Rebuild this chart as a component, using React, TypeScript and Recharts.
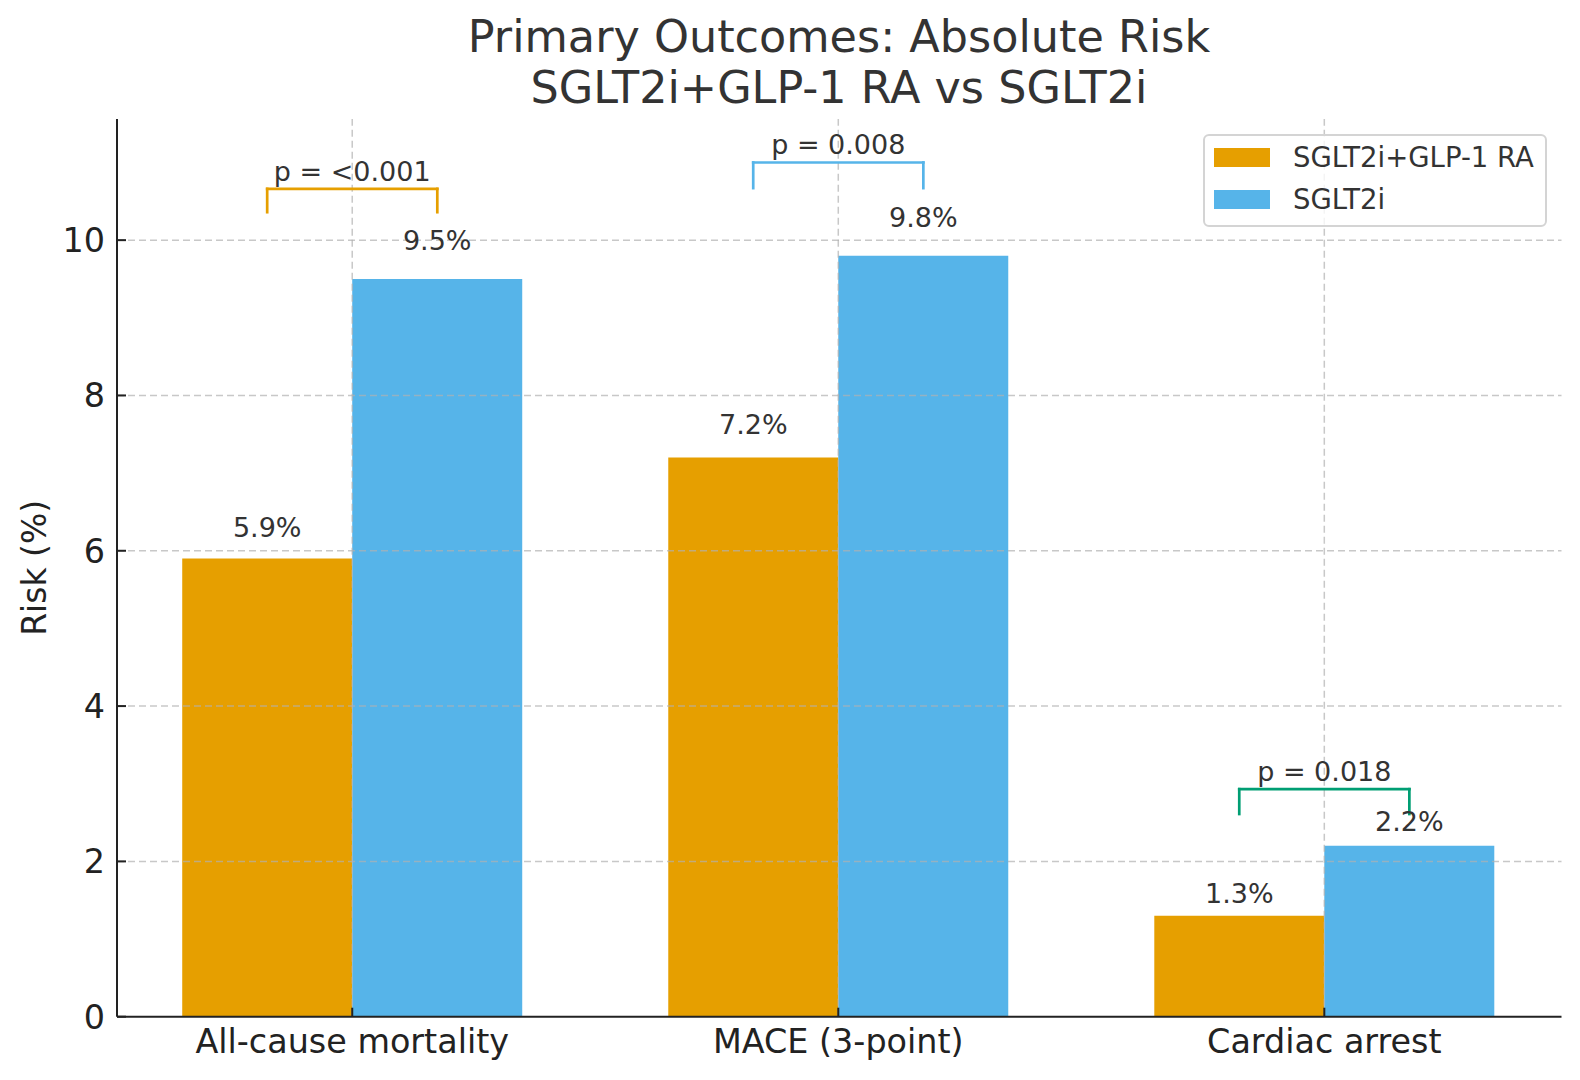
import React from "react";
import { Bar, BarChart, Label, LabelList, Legend, ReferenceLine, XAxis, YAxis } from "recharts";

const categories = ["All-cause mortality", "MACE (3-point)", "Cardiac arrest"];
const seriesNames = ["SGLT2i+GLP-1 RA", "SGLT2i"];
const comboRisk = [5.9, 7.2, 1.3];
const sglt2Risk = [9.5, 9.8, 2.2];
const pValueLabels = ["p = <0.001", "p = 0.008", "p = 0.018"];
const bracketLow = [10.36, 10.67, 2.61];
const bracketHigh = [10.66, 11.0, 2.93];
const yTicks = [0, 2, 4, 6, 8, 10];
const xTicks = [0, 1, 2];

const FONT = "'DejaVu Sans', sans-serif";
const ORANGE = "#E69F00";
const BLUE = "#56B4E9";
const GREEN = "#009E73";
const seriesColors = [ORANGE, BLUE];
const bracketColors = [ORANGE, BLUE, GREEN];
const BAR_HALF = 0.175; // each bar is 0.35 of a category step

const data = categories.map((name, i) => ({
    idx: i,
    name,
    combo: comboRisk[i],
    sglt2: sglt2Risk[i],
}));

const gridStyle = {
    stroke: "#b0b0b0",
    strokeOpacity: 0.7,
    strokeWidth: 1.5,
    strokeDasharray: "7 4",
};

function ValueLabel(props: any) {
    const { x, y, width, height, value } = props;
    const v = Number(value);
    // label sits a little above the bar, in data units
    const perUnit = Number(height) / v;
    const gap = (0.13 + 0.025 * v) * perUnit;
    return (
        <text
            x={Number(x) + Number(width) / 2}
            y={Number(y) - gap}
            textAnchor="middle"
            fontSize={27}
            fill="#333333"
            fontFamily={FONT}
        >
            {v.toFixed(1)}%
        </text>
    );
}

function YTitle(props: any) {
    const vb = props.viewBox ?? { x: 37, y: 119, width: 80, height: 897.7 };
    const cx = vb.x + vb.width - 71;
    const cy = vb.y + vb.height / 2;
    return (
        <text
            x={cx}
            y={cy}
            transform={`rotate(-90, ${cx}, ${cy})`}
            textAnchor="middle"
            fontSize={33}
            fill="#222222"
            fontFamily={FONT}
        >
            Risk (%)
        </text>
    );
}

function LegendBox() {
    return (
        <div
            style={{
                position: "relative",
                width: 344,
                height: 93,
                boxSizing: "border-box",
                border: "2px solid #d4d4d4",
                borderRadius: 6,
                background: "rgba(255,255,255,0.8)",
                fontFamily: FONT,
            }}
        >
            {seriesNames.map((n, i) => (
                <React.Fragment key={n}>
                    <div
                        style={{
                            position: "absolute",
                            left: 9,
                            top: 12.3 + i * 42,
                            width: 56,
                            height: 18.5,
                            background: seriesColors[i],
                        }}
                    />
                    <div
                        style={{
                            position: "absolute",
                            left: 88,
                            top: 5 + i * 42,
                            fontSize: 27.5,
                            lineHeight: "32px",
                            color: "#333333",
                            whiteSpace: "nowrap",
                        }}
                    >
                        {n}
                    </div>
                </React.Fragment>
            ))}
        </div>
    );
}

export default function App() {
    const axisStyle = { stroke: "#222222", strokeWidth: 2 };
    return (
        <div
            style={{
                position: "absolute",
                left: 0,
                top: 0,
                width: 1580,
                height: 1080,
                background: "#ffffff",
                fontFamily: FONT,
            }}
        >
            <div
                style={{
                    position: "absolute",
                    left: 339,
                    top: 11,
                    width: 1000,
                    textAlign: "center",
                    fontSize: 44.5,
                    lineHeight: "51px",
                    color: "#333333",
                    whiteSpace: "nowrap",
                }}
            >
                <div>Primary Outcomes: Absolute Risk</div>
                <div>SGLT2i+GLP-1 RA vs SGLT2i</div>
            </div>
            <BarChart
                width={1580}
                height={1080}
                data={data}
                margin={{ top: 119, right: 18.5, bottom: 13.3, left: 37 }}
                barGap={0}
                barSize={170}
            >
                <XAxis
                    type="number"
                    dataKey="idx"
                    domain={[-0.484, 2.488]}
                    ticks={xTicks}
                    interval={0}
                    allowDataOverflow
                    tickFormatter={(i) => categories[i] ?? ""}
                    height={50}
                    tickSize={-9}
                    tickMargin={22}
                    axisLine={axisStyle}
                    tickLine={axisStyle}
                    tick={{ fill: "#222222", fontSize: 33.4 }}
                />
                <YAxis
                    type="number"
                    domain={[0, 11.56]}
                    ticks={yTicks}
                    allowDataOverflow
                    width={80}
                    tickSize={-9}
                    tickMargin={21}
                    axisLine={axisStyle}
                    tickLine={axisStyle}
                    tick={{ fill: "#222222", fontSize: 33.4 }}
                >
                    <Label value="Risk (%)" content={YTitle} />
                </YAxis>
                <Bar dataKey="combo" name={seriesNames[0]} fill={ORANGE} isAnimationActive={false}>
                    <LabelList dataKey="combo" content={ValueLabel} />
                </Bar>
                <Bar dataKey="sglt2" name={seriesNames[1]} fill={BLUE} isAnimationActive={false}>
                    <LabelList dataKey="sglt2" content={ValueLabel} />
                </Bar>
                {yTicks.filter((t) => t > 0).map((t) => (
                    <ReferenceLine key={`gy-${t}`} y={t} {...gridStyle} />
                ))}
                {xTicks.map((t) => (
                    <ReferenceLine key={`gx-${t}`} x={t} {...gridStyle} />
                ))}
                {categories.map((c, i) => {
                    const l = i - BAR_HALF;
                    const r = i + BAR_HALF;
                    const col = bracketColors[i];
                    return [
                        <ReferenceLine
                            key={`l-${c}`}
                            segment={[{ x: l, y: bracketLow[i] }, { x: l, y: bracketHigh[i] }]}
                            stroke={col}
                            strokeWidth={2.7}
                            strokeLinecap="square"
                            ifOverflow="visible"
                        />,
                        <ReferenceLine
                            key={`t-${c}`}
                            segment={[{ x: l, y: bracketHigh[i] }, { x: r, y: bracketHigh[i] }]}
                            stroke={col}
                            strokeWidth={2.7}
                            strokeLinecap="square"
                            ifOverflow="visible"
                            label={{
                                value: pValueLabels[i],
                                position: "top",
                                offset: 8,
                                fill: "#333333",
                                fontSize: 27,
                                fontFamily: FONT,
                            }}
                        />,
                        <ReferenceLine
                            key={`r-${c}`}
                            segment={[{ x: r, y: bracketLow[i] }, { x: r, y: bracketHigh[i] }]}
                            stroke={col}
                            strokeWidth={2.7}
                            strokeLinecap="square"
                            ifOverflow="visible"
                        />,
                    ];
                })}
                <Legend
                    layout="horizontal"
                    verticalAlign="middle"
                    align="center"
                    content={() => <LegendBox />}
                    wrapperStyle={{ position: "absolute", left: 1203, top: 134, width: 344, height: 93 }}
                />
            </BarChart>
        </div>
    );
}
